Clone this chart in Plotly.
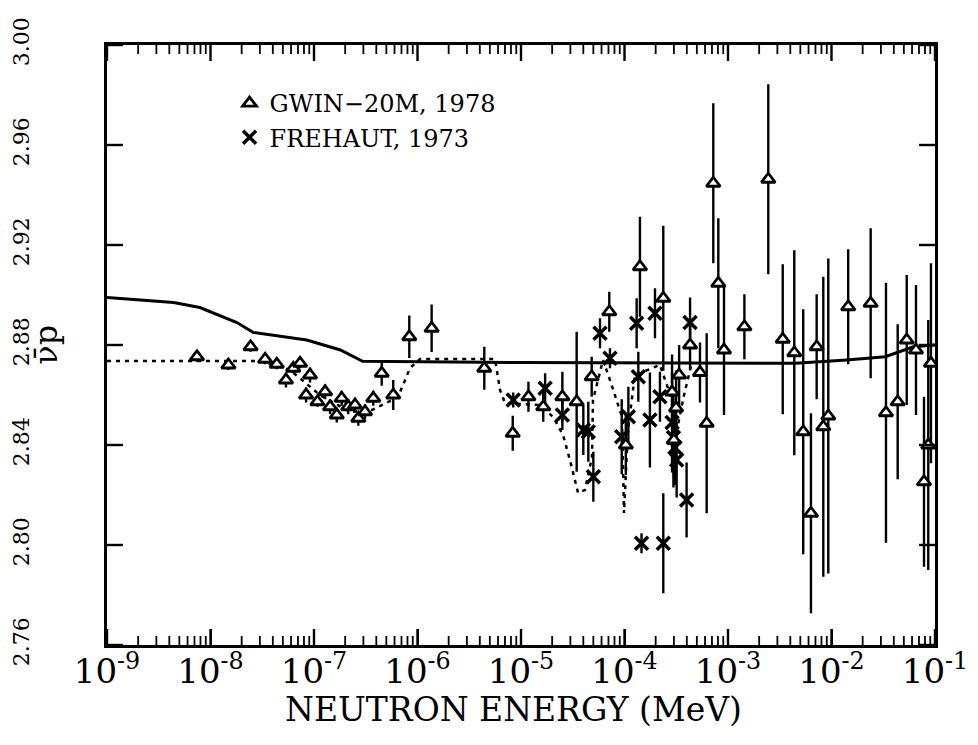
import plotly.graph_objects as go

# ---------------- data ----------------
# GWIN-20M, 1978 (triangles)
gwin_e = [7.4e-9, 1.49e-8, 2.44e-8, 3.37e-8, 4.37e-8, 5.36e-8, 6.31e-8, 7.33e-8, 8.38e-8, 9.15e-8,
          1.08e-7, 1.28e-7, 1.43e-7, 1.66e-7, 1.85e-7, 2.14e-7, 2.49e-7, 2.68e-7, 3.11e-7, 3.74e-7,
          4.51e-7, 5.83e-7, 8.33e-7, 1.37e-6, 4.42e-6, 8.32e-6, 1.18e-5, 1.64e-5, 2.51e-5, 3.45e-5,
          4.82e-5, 7.13e-5, 1.03e-4, 1.41e-4, 2.37e-4, 2.88e-4, 3.0e-4, 3.15e-4, 3.37e-4, 4.30e-4,
          5.36e-4, 6.22e-4, 7.21e-4, 8.06e-4, 9.15e-4, 1.44e-3, 2.45e-3, 3.38e-3, 4.37e-3, 5.33e-3,
          6.33e-3, 7.19e-3, 8.33e-3, 9.31e-3, 1.45e-2, 2.39e-2, 3.36e-2, 4.36e-2, 5.33e-2, 6.55e-2,
          7.83e-2, 8.61e-2, 9.14e-2]
gwin_v = [2.8753, 2.8720, 2.8793, 2.8743, 2.8723, 2.8660, 2.8707, 2.8727, 2.8600, 2.8680,
          2.8573, 2.8613, 2.8553, 2.8520, 2.8587, 2.8553, 2.8560, 2.8507, 2.8533, 2.8587,
          2.8687, 2.8600, 2.8833, 2.8867, 2.8707, 2.8447, 2.8593, 2.8553, 2.8593, 2.8573,
          2.8673, 2.8933, 2.8400, 2.9113, 2.8987, 2.8612, 2.8420, 2.8548, 2.8680, 2.8800,
          2.8690, 2.8487, 2.9447, 2.9047, 2.8780, 2.8873, 2.9463, 2.8823, 2.8769, 2.8453,
          2.8127, 2.8793, 2.8473, 2.8516, 2.8953, 2.8967, 2.8529, 2.8573, 2.8820, 2.8780,
          2.8253, 2.8400, 2.8727]
gwin_err = [0.002, 0.002, 0.002, 0.002, 0.002, 0.003, 0.002, 0.002, 0.003, 0.003,
            0.002, 0.003, 0.003, 0.003, 0.003, 0.003, 0.003, 0.003, 0.003, 0.003,
            0.005, 0.006, 0.0085, 0.0095, 0.0086, 0.007, 0.006, 0.006, 0.010, 0.028,
            0.008, 0.008, 0.012, 0.020, 0.029, 0.015, 0.015, 0.015, 0.012, 0.010,
            0.012, 0.036, 0.032, 0.026, 0.026, 0.013, 0.038, 0.030, 0.041, 0.049,
            0.040, 0.021, 0.060, 0.063, 0.023, 0.030, 0.052, 0.031, 0.026, 0.026,
            0.034, 0.050, 0.040]

# FREHAUT, 1973 (crosses)
freh_e = [8.41e-6, 1.71e-5, 2.51e-5, 4.0e-5, 4.47e-5, 5.0e-5, 5.8e-5, 7.24e-5, 9.4e-5, 1.09e-4,
          1.31e-4, 1.36e-4, 1.46e-4, 1.76e-4, 1.97e-4, 2.2e-4, 2.37e-4, 2.88e-4, 2.97e-4, 3.07e-4,
          3.19e-4, 3.98e-4, 4.3e-4]
freh_v = [2.8580, 2.8627, 2.8520, 2.8460, 2.8453, 2.8273, 2.8847, 2.8747, 2.8433, 2.8513,
          2.8887, 2.8673, 2.8007, 2.8500, 2.8927, 2.8593, 2.8007, 2.8490, 2.8430, 2.8390,
          2.8340, 2.8180, 2.8890]
freh_err = [0.003, 0.006, 0.006, 0.010, 0.012, 0.010, 0.006, 0.004, 0.015, 0.012,
            0.010, 0.010, 0.004, 0.019, 0.010, 0.010, 0.020, 0.020, 0.020, 0.015,
            0.015, 0.015, 0.010]

# solid evaluation curve
solid_e = [1e-9, 4.4e-9, 7.9e-9, 1.8e-8, 2.6e-8, 8.5e-8, 1.8e-7, 2.95e-7, 1e-5, 1e-3,
           4.5e-3, 1.4e-2, 3.3e-2, 6.2e-2, 1e-1]
solid_v = [2.899, 2.897, 2.895, 2.889, 2.885, 2.882, 2.878, 2.8735, 2.873, 2.8727,
           2.8727, 2.874, 2.8753, 2.8793, 2.880]

# dotted curve
dot_e = [1e-9, 3.0e-8, 5.86e-8, 1.14e-7, 2.23e-7, 3.63e-7, 6.48e-7, 8.47e-7, 1.06e-6, 5.61e-6,
         6.27e-6, 7.0e-6, 1.53e-5, 2.04e-5, 2.55e-5, 2.97e-5, 3.56e-5, 4.15e-5, 4.85e-5, 4.96e-5,
         6.2e-5, 7.24e-5, 9.46e-5, 9.89e-5, 1.08e-4, 1.26e-4, 2.2e-4, 2.88e-4, 3.21e-4, 3.76e-4,
         4.49e-4]
dot_v = [2.8736, 2.8736, 2.870, 2.860, 2.8532, 2.854, 2.8592, 2.8708, 2.8744, 2.8744,
         2.862, 2.8568, 2.856, 2.8512, 2.844, 2.834, 2.8208, 2.822, 2.8352, 2.858,
         2.874, 2.866, 2.8512, 2.8128, 2.846, 2.868, 2.872, 2.858, 2.846, 2.860,
         2.8732]

x_decades = [1e-9, 1e-8, 1e-7, 1e-6, 1e-5, 1e-4, 1e-3, 1e-2, 1e-1]
x_ticktext = ["10<sup>-9</sup>", "10<sup>-8</sup>", "10<sup>-7</sup>", "10<sup>-6</sup>",
              "10<sup>-5</sup>", "10<sup>-4</sup>", "10<sup>-3</sup>", "10<sup>-2</sup>",
              "10<sup>-1</sup>"]
minor_mult = [2, 3, 4, 5, 6, 7, 8, 9]
y_tickvals = [2.76, 2.80, 2.84, 2.88, 2.92, 2.96, 3.00]
y_ticktext = ["2.76", "2.80", "2.84", "2.88", "2.92", "2.96", "3.00"]

FONT = "DejaVu Serif"
x_minor = [m * d for d in x_decades[:-1] for m in minor_mult]
XR = [-9, -1]
YR = [y_tickvals[0], y_tickvals[-1]]

# plot-area size in px (figure size minus margins) used to give the tick marks a pixel length
W, H = 962, 729
ML, MR, MT, MB = 99, 35, 37, 92
PW, PH = W - ML - MR, H - MT - MB
MAJOR_PX, MINOR_PX = 16, 9
dy_major = (YR[1] - YR[0]) * MAJOR_PX / PH
dy_minor = (YR[1] - YR[0]) * MINOR_PX / PH
xfac = 10 ** ((XR[1] - XR[0]) * MAJOR_PX / PW)

def seg_x(vals, dy):
    xs, ys = [], []
    for v in vals:
        xs += [v, v, None, v, v, None]
        ys += [YR[0], YR[0] + dy, None, YR[1], YR[1] - dy, None]
    return xs, ys

def seg_y(vals):
    xs, ys = [], []
    lo, hi = x_decades[0], x_decades[-1]
    for v in vals:
        xs += [lo, lo * xfac, None, hi, hi / xfac, None]
        ys += [v, v, None, v, v, None]
    return xs, ys

fig = go.Figure()

fig.add_trace(go.Scatter(x=solid_e, y=solid_v, mode="lines",
                         line=dict(color="black", width=3), showlegend=False,
                         hoverinfo="skip"))
fig.add_trace(go.Scatter(x=dot_e, y=dot_v, mode="lines",
                         line=dict(color="black", width=2.5, dash="4px,5px"), showlegend=False,
                         hoverinfo="skip"))

fig.add_trace(go.Scatter(
    x=freh_e, y=freh_v, mode="markers", name="FREHAUT, 1973",
    marker=dict(symbol="x-thin", size=13, color="black", line=dict(color="black", width=3.5)),
    error_y=dict(type="data", array=freh_err, visible=True, color="black", thickness=2.4, width=0),
))
fig.add_trace(go.Scatter(
    x=gwin_e, y=gwin_v, mode="markers", name="GWIN\u221220M, 1978",
    marker=dict(symbol="triangle-up", size=12, color="white", line=dict(color="black", width=2.8)),
    error_y=dict(type="data", array=gwin_err, visible=True, color="black", thickness=2.4, width=0),
))

# inside tick marks on all four sides
mx, my = seg_x(x_decades, dy_major)
nx, ny = seg_x(x_minor, dy_minor)
yx, yy = seg_y(y_tickvals)
fig.add_trace(go.Scatter(x=mx + yx, y=my + yy, mode="lines", line=dict(color="black", width=2.4),
                         showlegend=False, hoverinfo="skip", connectgaps=False))
fig.add_trace(go.Scatter(x=nx, y=ny, mode="lines", line=dict(color="black", width=1.8),
                         showlegend=False, hoverinfo="skip", connectgaps=False))

fig.update_layout(
    width=W, height=H,
    margin=dict(l=ML, r=MR, t=MT, b=MB),
    paper_bgcolor="white", plot_bgcolor="white",
    font=dict(family=FONT, color="black"),
    legend=dict(x=0.148, y=0.94, xanchor="left", yanchor="top", traceorder="reversed",
                font=dict(family=FONT, size=24, color="black"), bgcolor="rgba(0,0,0,0)",
                tracegroupgap=0),
    showlegend=True,
    xaxis=dict(
        type="log", range=XR, automargin=False,
        tickmode="array", tickvals=x_decades, ticktext=x_ticktext,
        ticks="inside", ticklen=16, tickwidth=2, tickcolor="black",
        showline=True, linecolor="black", linewidth=3, mirror=True,
        showgrid=False, zeroline=False,
        tickfont=dict(family=FONT, size=34, color="black"),
        ticklabelstandoff=-6,
    ),
    yaxis=dict(
        range=YR, automargin=False,
        tickmode="array", tickvals=y_tickvals, ticktext=y_ticktext, tickangle=-90,
        ticks="inside", ticklen=16, tickwidth=2, tickcolor="black",
        showline=True, linecolor="black", linewidth=3, mirror=True,
        showgrid=False, zeroline=False,
        tickfont=dict(family=FONT, size=22, color="black"),
        ticklabelstandoff=66,
    ),
)

# axis titles placed as annotations
fig.add_annotation(text="NEUTRON ENERGY (MeV)", xref="paper", yref="paper", x=0.4915, y=-0.108,
                   xanchor="center", yanchor="middle", showarrow=False,
                   font=dict(family=FONT, size=33, color="black"))
fig.add_annotation(text="\u03bd\u0304p", xref="paper", yref="paper", x=-0.074, y=0.5,
                   xanchor="center", yanchor="middle", textangle=-90, showarrow=False,
                   font=dict(family=FONT, size=32, color="black"))

fig.write_html("out.html")
